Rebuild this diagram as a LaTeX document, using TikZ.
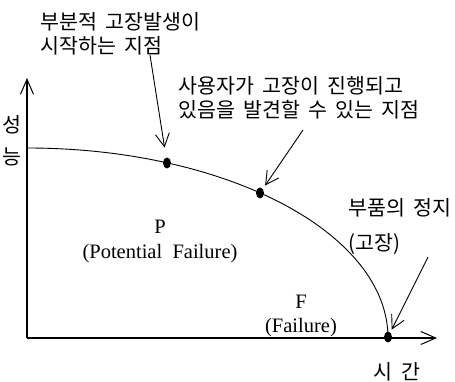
\documentclass[tikz,border=0pt]{standalone}
\usepackage{fontspec}
\setmainfont{Liberation Serif}
\newfontfamily\kr[WordSpace=1.8]{Noto Sans CJK KR}
\usetikzlibrary{arrows.meta,shapes.geometric}

\begin{document}
\begin{tikzpicture}[x=1pt,y=1pt,
  axis/.style={line width=1.3pt,-{Straight Barb[length=15pt,width=13pt,line width=1pt]}},
  pointer/.style={line width=0.9pt,-{Straight Barb[length=13pt,width=14pt,line width=0.9pt]}},
  dot/.style={ellipse,fill,inner sep=0pt,minimum width=8pt,minimum height=11pt},
  krtext/.style={inner sep=0pt,align=left,font=\kr\fontsize{20.6}{24}\selectfont},
  entext/.style={inner sep=0pt,align=center,font=\fontsize{20.5}{26}\selectfont}]
\useasboundingbox (0,0) rectangle (455,382);
% axes
\coordinate (O) at (27,44);
\coordinate (ytop) at (27,304);
\coordinate (xend) at (437,44);
\draw[axis] (O) -- (ytop);
\draw[axis] (O) -- (xend);
\node[krtext,align=center,font=\kr\fontsize{20.6}{32}\selectfont] (perf) at (12,241) {성\\능};
\node[krtext] (time) at (397,10) {시 간};
% performance curve
\coordinate (c0) at (27,234);
\draw[line width=0.9pt] (c0) arc[start angle=90,end angle=0,x radius=361,y radius=190];
\node[dot] (d1) at (167,219) {};
\node[dot] (d2) at (260,189) {};
\node[dot] (d3) at (388,45) {};
% regions
\node[entext,font=\fontsize{20.5}{25.5}\selectfont] (pf) at (160,140.5) {P\\(Potential\ \ Failure)};
\node[entext,font=\fontsize{20.5}{24}\selectfont] (ff) at (301,66) {F\\(Failure)};
% callouts
\node[krtext,anchor=west] (start) at (40,348.5) {부분적 고장발생이\\시작하는 지점};
\node[krtext,anchor=west] (notice) at (178,284.5) {사용자가 고장이 진행되고\\있음을 발견할 수 있는 지점};
\node[krtext,anchor=west] (stop) at (348,155.5) {부품의 정지\\[11pt](고장)};
\coordinate (s1) at (150,327);
\coordinate (s2) at (303,252);
\coordinate (s3) at (428,125);
\draw[pointer,shorten >=10pt] (s1) -- (d1);
\draw[pointer,shorten >=4pt] (s2) -- (d2);
\draw[pointer,shorten >=3pt] (s3) -- (d3);
\end{tikzpicture}
\end{document}
